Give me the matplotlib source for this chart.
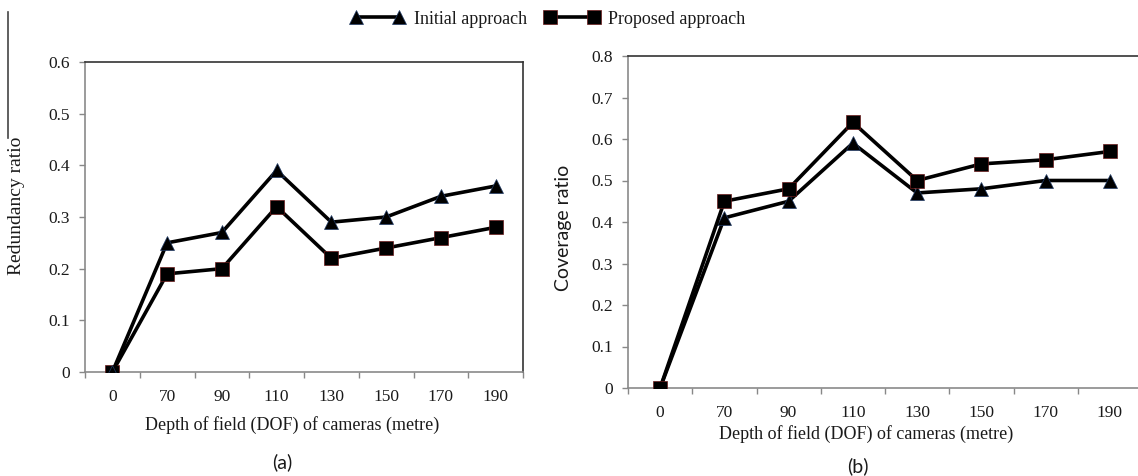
import matplotlib
matplotlib.use("Agg")
import matplotlib.pyplot as plt
from matplotlib.lines import Line2D

categories = ["0", "70", "90", "110", "130", "150", "170", "190"]
redundancy_initial = [0.0, 0.25, 0.27, 0.39, 0.29, 0.30, 0.34, 0.36]
redundancy_proposed = [0.0, 0.19, 0.20, 0.32, 0.22, 0.24, 0.26, 0.28]
coverage_initial = [0.0, 0.41, 0.45, 0.59, 0.47, 0.48, 0.50, 0.50]
coverage_proposed = [0.0, 0.45, 0.48, 0.64, 0.50, 0.54, 0.55, 0.57]

W, H = 1138, 476
SERIF = "Liberation Serif"
SANS = "Lato"

fig = plt.figure(figsize=(W / 100, H / 100), dpi=100)


def box(l, t, r, b):
    return [l / W, 1 - b / H, (r - l) / W, (b - t) / H]


ax1 = fig.add_axes(box(85, 62, 523, 372))
ax2 = fig.add_axes(box(628, 56, 1142, 388))

tri_style = dict(color="black", lw=2.6, marker="^", ms=10, mfc="black",
                 mec="#1f3a66", mew=0.5)
sq_style = dict(color="black", lw=2.6, marker="s", ms=10, mfc="black",
                mec="#6a1a1a", mew=0.5)

x = list(range(len(categories)))


def style_axes(ax, ymax, show_right):
    ax.set_xlim(-0.5, len(categories) - 0.5)
    ax.set_ylim(0, ymax)
    n = int(round(ymax * 10))
    ax.set_yticks([round(i * 0.1, 1) for i in range(n + 1)])
    ax.set_yticklabels([("0" if i == 0 else f"{i * 0.1:.1f}")
                        for i in range(n + 1)],
                       fontfamily=SERIF, fontsize=12.5, color="#1a1a1a")
    ax.set_xticks([i - 0.5 for i in range(len(categories) + 1)])
    ax.set_xticklabels([])
    ax.set_xticks(x, minor=True)
    ax.set_xticklabels(categories, minor=True, fontfamily=SERIF,
                       fontsize=12.5, color="#1a1a1a")
    ax.tick_params(axis="x", which="major", direction="out", length=4,
                   width=1, color="#888888")
    ax.tick_params(axis="x", which="minor", length=0, pad=12)
    ax.tick_params(axis="y", direction="out", length=4, width=1,
                   color="#888888", pad=7)
    ax.spines["left"].set_color("#8a8a8a")
    ax.spines["bottom"].set_color("#8a8a8a")
    ax.spines["top"].set_color("#333333")
    ax.spines["right"].set_color("#333333")
    for s in ax.spines.values():
        s.set_linewidth(1.2)
    ax.spines["right"].set_visible(show_right)


ax1.plot(x, redundancy_proposed, **sq_style, zorder=3)
ax1.plot(x, redundancy_initial, **tri_style, zorder=4)
style_axes(ax1, 0.6, True)

ax2.plot(x, coverage_initial, **tri_style, zorder=3)
ax2.plot(x, coverage_proposed, **sq_style, zorder=4)
style_axes(ax2, 0.8, True)

# axis titles
fig.text(17 / W, 1 - 206 / H, "Redundancy ratio", rotation=90, ha="center",
         va="center", fontfamily=SERIF, fontsize=14, color="#1a1a1a")
fig.text(563 / W, 1 - 228 / H, "Coverage ratio", rotation=90, ha="center",
         va="center", fontfamily=SANS, fontsize=14, color="#1a1a1a")
fig.text(292 / W, 1 - 425 / H, "Depth of field (DOF) of cameras (metre)",
         ha="center", va="center", fontfamily=SERIF, fontsize=13,
         color="#1a1a1a")
fig.text(866 / W, 1 - 434 / H, "Depth of field (DOF) of cameras (metre)",
         ha="center", va="center", fontfamily=SERIF, fontsize=13,
         color="#1a1a1a")
fig.text(282 / W, 1 - 462 / H, "(a)", ha="center", va="center",
         fontfamily=SANS, fontsize=14, color="#1a1a1a")
fig.text(858 / W, 1 - 466 / H, "(b)", ha="center", va="center",
         fontfamily=SANS, fontsize=14, color="#1a1a1a")

# stray vertical rule at top-left of original
fig.add_artist(Line2D([8 / W, 8 / W], [1 - 12 / H, 1 - 138 / H],
                      color="#444444", lw=1.2))

handles = [Line2D([], [], **tri_style), Line2D([], [], **sq_style)]
leg = fig.legend(handles, ["Initial approach", "Proposed approach"],
                 loc="center", bbox_to_anchor=(548 / W, 1 - 19 / H), ncol=2,
                 frameon=False, numpoints=2, handlelength=3.0,
                 handletextpad=0.5, columnspacing=1.0,
                 prop={"family": SERIF, "size": 13})
for t in leg.get_texts():
    t.set_color("#1a1a1a")

fig.savefig("out.png", dpi=100)
